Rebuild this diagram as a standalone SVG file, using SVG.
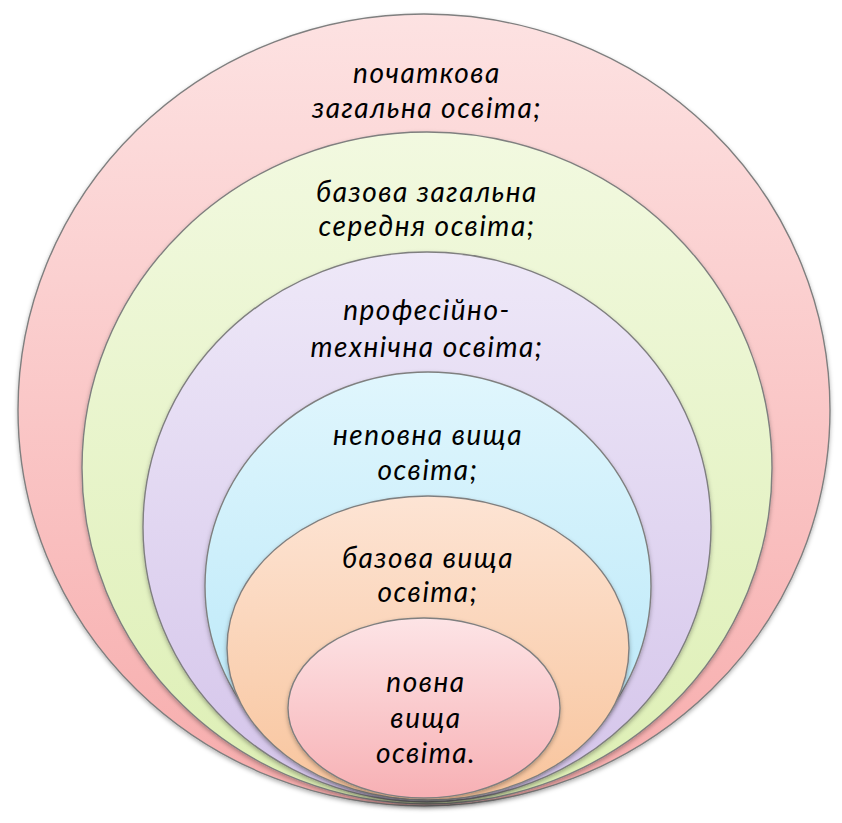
<svg xmlns="http://www.w3.org/2000/svg" width="842" height="823" viewBox="0 0 842 823">
<defs>
<linearGradient id="gPink" x1="0" y1="0" x2="0" y2="1"><stop offset="0" stop-color="#fde2e2"/><stop offset="1" stop-color="#f7acac"/></linearGradient>
<linearGradient id="gGreen" x1="0" y1="0" x2="0" y2="1"><stop offset="0" stop-color="#f2f9e0"/><stop offset="1" stop-color="#ddefb4"/></linearGradient>
<linearGradient id="gPurple" x1="0" y1="0" x2="0" y2="1"><stop offset="0" stop-color="#eee8f8"/><stop offset="1" stop-color="#d4c4ea"/></linearGradient>
<linearGradient id="gBlue" x1="0" y1="0" x2="0" y2="1"><stop offset="0" stop-color="#e0f6fd"/><stop offset="1" stop-color="#b4e6f8"/></linearGradient>
<linearGradient id="gOrange" x1="0" y1="0" x2="0" y2="1"><stop offset="0" stop-color="#fde4d4"/><stop offset="1" stop-color="#f8c49c"/></linearGradient>
<linearGradient id="gInner" x1="0" y1="0" x2="0" y2="1"><stop offset="0" stop-color="#fde4e6"/><stop offset="1" stop-color="#f7b0b4"/></linearGradient>
<filter id="sh" x="-10%" y="-10%" width="120%" height="120%"><feDropShadow dx="0" dy="2" stdDeviation="2" flood-color="#000" flood-opacity="0.3"/></filter>
</defs>
<style>
ellipse{stroke:#7f7f7f;stroke-width:1.4;filter:url(#sh)}
text{font-family:Lato,"Open Sans",sans-serif;font-style:italic;font-size:28px;letter-spacing:1.5px;fill:#000;text-anchor:middle}
</style>
<g id="n1"><ellipse cx="424" cy="410" rx="406" ry="396" fill="url(#gPink)"/><text x="427" y="83">початкова</text><text x="427" y="118">загальна освіта;</text></g>
<g id="n2"><ellipse cx="427" cy="468" rx="345" ry="336" fill="url(#gGreen)"/><text x="427" y="202">базова загальна</text><text x="427" y="236">середня освіта;</text></g>
<g id="n3"><ellipse cx="427" cy="527" rx="284" ry="275" fill="url(#gPurple)"/><text x="427" y="320">професійно-</text><text x="427" y="357">технічна освіта;</text></g>
<g id="n4"><ellipse cx="428" cy="586" rx="223" ry="214" fill="url(#gBlue)"/><text x="428" y="445">неповна вища</text><text x="428" y="480">освіта;</text></g>
<g id="n5"><ellipse cx="428" cy="648" rx="201" ry="152" fill="url(#gOrange)"/><text x="428" y="568">базова вища</text><text x="428" y="602">освіта;</text></g>
<g id="n6"><ellipse cx="424" cy="708" rx="136" ry="90" fill="url(#gInner)"/><text x="426" y="692">повна</text><text x="426" y="728">вища</text><text x="426" y="763">освіта.</text></g>
<g id="connectors"/>
</svg>
